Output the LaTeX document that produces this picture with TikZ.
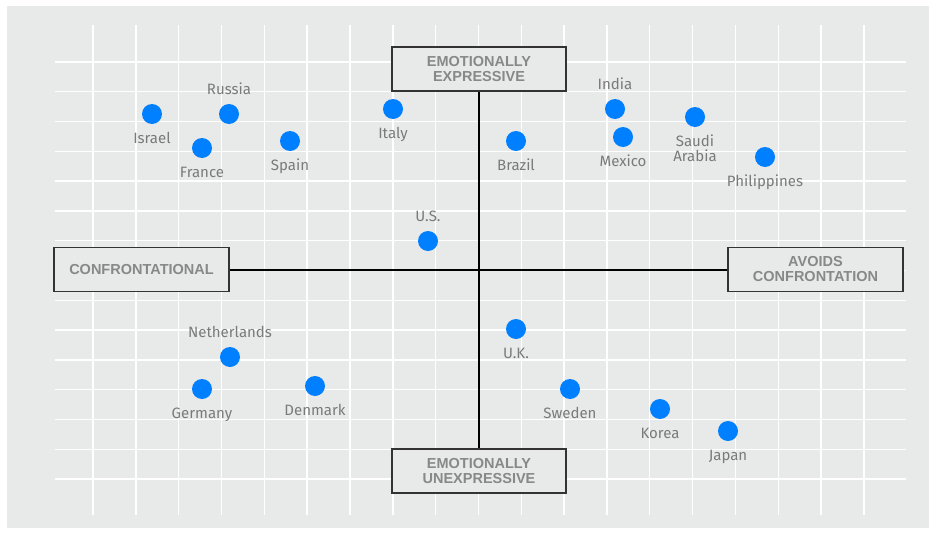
\documentclass[tikz,border=0pt]{standalone}
\usepackage{fontspec}
\setmainfont{Fira Sans}
\newfontfamily\polefont{Liberation Sans}
\usetikzlibrary{positioning}

\definecolor{panelgray}{RGB}{232,233,233}
\definecolor{dotblue}{RGB}{0,128,255}
\definecolor{labelgray}{RGB}{122,122,122}
\definecolor{boxtext}{RGB}{136,136,136}
\definecolor{boxline}{RGB}{51,51,51}

\begin{document}
\begin{tikzpicture}[x=1pt, y=-1pt,
	gridline/.style={white, line width=1.4pt},
	axis/.style={black, line width=2pt},
	pole/.style={draw=boxline, line width=1.3pt, fill=panelgray, text=boxtext,
		font=\polefont\fontsize{14.5}{15}\selectfont\bfseries, align=center,
		minimum width=174pt, minimum height=44pt, inner sep=0pt},
	country/.style={circle, fill=dotblue, minimum size=20pt, inner sep=0pt},
	lbl/.style={text=labelgray, font=\fontsize{15}{15}\selectfont,
		inner sep=0pt, text height=10.3pt, text depth=0pt}]
	\useasboundingbox (0,0) rectangle (935,533);

	% Fondo
	\fill [panelgray] (7,6) rectangle (929,528);

	% Rejilla
	\foreach \i in {0,...,18}
		\draw [gridline] ({93+42.83*\i},25) -- ({93+42.83*\i},515);
	\foreach \j in {0,...,14}
		\draw [gridline] (55,{62+29.79*\j}) -- (906,{62+29.79*\j});

	% Polos
	\node [pole] (expr) at (479,69) {EMOTIONALLY\\EXPRESSIVE};
	\node [pole] (unexpr) at (479,471) {EMOTIONALLY\\UNEXPRESSIVE};
	\node [pole, minimum width=175pt] (conf) at (141.5,269.5) {CONFRONTATIONAL};
	\node [pole, minimum width=175pt] (avoid) at (815.5,269.5) {AVOIDS\\CONFRONTATION};

	% Ejes
	\draw [axis] (expr.south) -- (unexpr.north);
	\draw [axis] (conf.east) -- (avoid.west);

	% Paises
	\node [country] (israel) at (152,114) {};
	\node [country] (russia) at (229,114) {};
	\node [country] (france) at (202,148) {};
	\node [country] (spain) at (290,141) {};
	\node [country] (italy) at (393,109) {};
	\node [country] (brazil) at (516,141) {};
	\node [country] (india) at (615,109) {};
	\node [country] (mexico) at (623,137) {};
	\node [country] (saudi) at (695,117) {};
	\node [country] (phil) at (765,157) {};
	\node [country] (us) at (428,241) {};
	\node [country] (neth) at (230,357) {};
	\node [country] (germany) at (202,389) {};
	\node [country] (denmark) at (315,386) {};
	\node [country] (uk) at (516,329) {};
	\node [country] (sweden) at (570,389) {};
	\node [country] (korea) at (660,409) {};
	\node [country] (japan) at (728,431) {};

	\node [lbl, below=9pt of israel] (israel-l) {Israel};
	\node [lbl, above=9pt of russia] (russia-l) {Russia};
	\node [lbl, below=9pt of france] (france-l) {France};
	\node [lbl, below=9pt of spain] (spain-l) {Spain};
	\node [lbl, below=9pt of italy] (italy-l) {Italy};
	\node [lbl, below=9pt of brazil] (brazil-l) {Brazil};
	\node [lbl, above=9pt of india] (india-l) {India};
	\node [lbl, below=9pt of mexico] (mexico-l) {Mexico};
	\node [lbl, below=9pt of saudi, align=center, text height=25.3pt] (saudi-l) {Saudi\\Arabia};
	\node [lbl, below=9pt of phil] (phil-l) {Philippines};
	\node [lbl, above=9pt of us] (us-l) {U.S.};
	\node [lbl, above=9pt of neth] (neth-l) {Netherlands};
	\node [lbl, below=9pt of germany] (germany-l) {Germany};
	\node [lbl, below=9pt of denmark] (denmark-l) {Denmark};
	\node [lbl, below=9pt of uk] (uk-l) {U.K.};
	\node [lbl, below=9pt of sweden] (sweden-l) {Sweden};
	\node [lbl, below=9pt of korea] (korea-l) {Korea};
	\node [lbl, below=9pt of japan] (japan-l) {Japan};
\end{tikzpicture}
\end{document}
